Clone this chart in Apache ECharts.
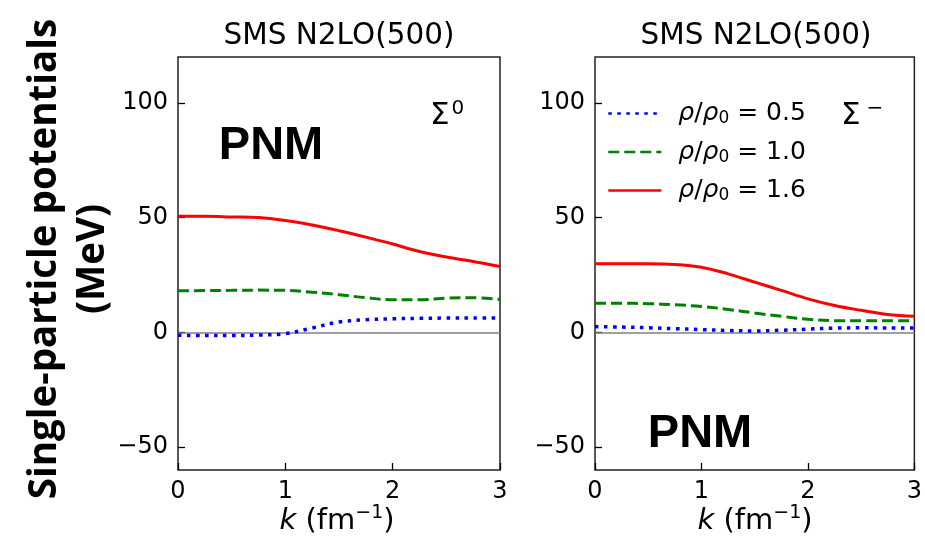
<!DOCTYPE html>
<html>
<head>
<meta charset="utf-8">
<script src="https://cdn.jsdelivr.net/npm/echarts@6/dist/echarts.min.js"></script>
<style>html,body{margin:0;padding:0;background:#fff}#c{width:925px;height:541px}</style>
</head>
<body>
<div id="c"></div>
<script>
const kValues = [0, 0.25, 0.5, 0.75, 1, 1.25, 1.5, 1.75, 2, 2.25, 2.5, 2.75, 3];
const densityLabels = ['0.5', '1.0', '1.6'];
// Sigma0 panel
const sig0_rho05 = [-1.3, -1.4, -1.4, -1.2, -0.6, 1.9, 4.5, 5.5, 5.9, 6.1, 6.2, 6.2, 6.2];
const sig0_rho10 = [18.1, 18.2, 18.3, 18.4, 18.3, 17.5, 16.4, 15.1, 14.2, 14.2, 14.9, 15.1, 14.3];
const sig0_rho16 = [50.6, 50.6, 50.3, 50.0, 48.7, 46.8, 44.3, 41.5, 38.5, 35.2, 32.8, 30.9, 28.7];
// Sigma- panel
const sigm_rho05 = [2.5, 2.3, 2.0, 1.6, 1.2, 0.8, 0.6, 0.9, 1.4, 1.8, 2.0, 1.9, 1.9];
const sigm_rho10 = [12.7, 12.7, 12.5, 12.0, 11.3, 10.0, 8.4, 7.0, 5.7, 5.1, 5.1, 5.1, 5.1];
const sigm_rho16 = [29.9, 29.9, 29.9, 29.6, 28.4, 25.5, 21.9, 18.3, 14.6, 11.7, 9.6, 7.8, 7.0];
const yTicks = [-50, 0, 50, 100];
const xTicks = [0, 1, 2, 3];
const panelTitle = 'SMS N2LO(500)';

const names = densityLabels.map(d => 'ρ/ρ0 = ' + d);
const colors = ['#0000ff', '#008000', '#ff0000'];
const dashes = [[3.5, 5.5], [11, 5], 'solid'];
const widths = [3.5, 3, 3];
const panels = [[sig0_rho05, sig0_rho10, sig0_rho16], [sigm_rho05, sigm_rho10, sigm_rho16]];

const FONT = 'DejaVu Sans';
const chart = echarts.init(document.getElementById('c'), null, {renderer: 'canvas'});

function pairs(arr) { return kValues.map((k, i) => [k, arr[i]]); }

const series = [];
panels.forEach((p, pi) => {
  p.forEach((arr, si) => {
    const s = {
      name: names[si], type: 'line', xAxisIndex: pi, yAxisIndex: pi,
      data: pairs(arr), smooth: 0.35, symbol: 'none', showSymbol: false,
      lineStyle: {color: colors[si], type: dashes[si], width: widths[si], cap: 'butt'},
      itemStyle: {color: colors[si]}, z: 3 + si
    };
    if (si === 0) {
      s.markLine = {silent: true, symbol: 'none', label: {show: false},
        lineStyle: {color: '#808080', type: 'solid', width: 1.6}, z: 1,
        data: [{yAxis: 0}]};
    }
    series.push(s);
  });
});

const axisLabelStyle = {color: '#000', fontFamily: FONT, fontSize: 24};

function xAxis(gi) {
  return {
    type: 'value', gridIndex: gi, min: 0, max: 3, interval: 1,
    axisLine: {show: false, onZero: false}, splitLine: {show: false},
    axisTick: {show: true, inside: true, length: 7, lineStyle: {color: '#000', width: 1.3}, customValues: xTicks},
    axisLabel: Object.assign({margin: 10, customValues: xTicks}, axisLabelStyle)
  };
}
function yAxis(gi) {
  return {
    type: 'value', gridIndex: gi, min: -60, max: 120,
    axisLine: {show: false, onZero: false}, splitLine: {show: false},
    axisTick: {show: true, inside: true, length: 7, lineStyle: {color: '#000', width: 1.3}, customValues: yTicks},
    axisLabel: Object.assign({margin: 10, customValues: yTicks,
      formatter: v => String(v).replace('-', '\u2212')}, axisLabelStyle)
  };
}

const subRich = {
  i: {fontFamily: FONT, fontStyle: 'italic', fontSize: 25, color: '#000'},
  n: {fontFamily: FONT, fontSize: 25, color: '#000'},
  s: {fontFamily: FONT, fontSize: 17, color: '#000', padding: [11, 0, 0, 0]}
};

chart.setOption({
  backgroundColor: '#fff',
  animation: false,
  grid: [
    {left: 178, top: 57, width: 322, height: 413, show: true, borderColor: '#222', borderWidth: 1.5, backgroundColor: 'transparent'},
    {left: 595, top: 57, width: 322, height: 413, show: true, borderColor: '#222', borderWidth: 1.5, backgroundColor: 'transparent'}
  ],
  xAxis: [xAxis(0), xAxis(1)],
  yAxis: [yAxis(0), yAxis(1)],
  legend: {
    data: names, orient: 'vertical', left: 607, top: 101, itemGap: 12,
    itemWidth: 53, itemHeight: 14, padding: 0,
    itemStyle: {opacity: 0},
    lineStyle: {width: 2.6},
    formatter: function (name) {
      const v = name.split('= ')[1];
      return '{i|ρ}{n|/}{i|ρ}{s|0}{n| = ' + v + '}';
    },
    textStyle: {rich: subRich, padding: [0, 0, 0, 12]}
  },
  series: series,
  graphic: [
    {type: 'text', x: 339, y: 36, style: {text: panelTitle, fontFamily: FONT, fontSize: 29.5, fill: '#000', align: 'center', verticalAlign: 'middle'}},
    {type: 'text', x: 756, y: 36, style: {text: panelTitle, fontFamily: FONT, fontSize: 29.5, fill: '#000', align: 'center', verticalAlign: 'middle'}},
    {type: 'text', x: 271, y: 146, style: {text: 'PNM', fontFamily: 'Liberation Sans', fontWeight: 'bold', fontSize: 47, fill: '#000', align: 'center', verticalAlign: 'middle'}},
    {type: 'text', x: 700, y: 434, style: {text: 'PNM', fontFamily: 'Liberation Sans', fontWeight: 'bold', fontSize: 47, fill: '#000', align: 'center', verticalAlign: 'middle'}},
    {type: 'text', x: 430, y: 116, style: {text: '{a|Σ}{b|0}', align: 'left', verticalAlign: 'middle',
      rich: {a: {fontFamily: FONT, fontSize: 31, color: '#000'}, b: {fontFamily: FONT, fontSize: 20, color: '#000', padding: [0, 0, 14, 2]}}}},
    {type: 'text', x: 841, y: 116, style: {text: '{a|Σ}{b|\u2212}', align: 'left', verticalAlign: 'middle',
      rich: {a: {fontFamily: FONT, fontSize: 31, color: '#000'}, b: {fontFamily: FONT, fontSize: 20, color: '#000', padding: [0, 0, 14, 6]}}}},
    {type: 'text', x: 337, y: 521, style: {text: '{i|k}{n| (fm}{s|\u22121}{n|)}', align: 'center', verticalAlign: 'middle',
      rich: {i: {fontFamily: FONT, fontStyle: 'italic', fontSize: 29, color: '#000'}, n: {fontFamily: FONT, fontSize: 29, color: '#000'}, s: {fontFamily: FONT, fontSize: 19, color: '#000', padding: [0, 0, 15, 0]}}}},
    {type: 'text', x: 755, y: 521, style: {text: '{i|k}{n| (fm}{s|\u22121}{n|)}', align: 'center', verticalAlign: 'middle',
      rich: {i: {fontFamily: FONT, fontStyle: 'italic', fontSize: 29, color: '#000'}, n: {fontFamily: FONT, fontSize: 29, color: '#000'}, s: {fontFamily: FONT, fontSize: 19, color: '#000', padding: [0, 0, 15, 0]}}}},
    {type: 'text', x: 45, y: 259, rotation: Math.PI / 2, style: {text: 'Single-particle potentials', fontFamily: 'Open Sans', fontWeight: 'bold', fontSize: 38.5, fill: '#000', align: 'center', verticalAlign: 'middle'}},
    {type: 'text', x: 93, y: 259, rotation: Math.PI / 2, style: {text: '(MeV)', fontFamily: 'Open Sans', fontWeight: 'bold', fontSize: 38.5, fill: '#000', align: 'center', verticalAlign: 'middle'}}
  ]
});
</script>
</body>
</html>
